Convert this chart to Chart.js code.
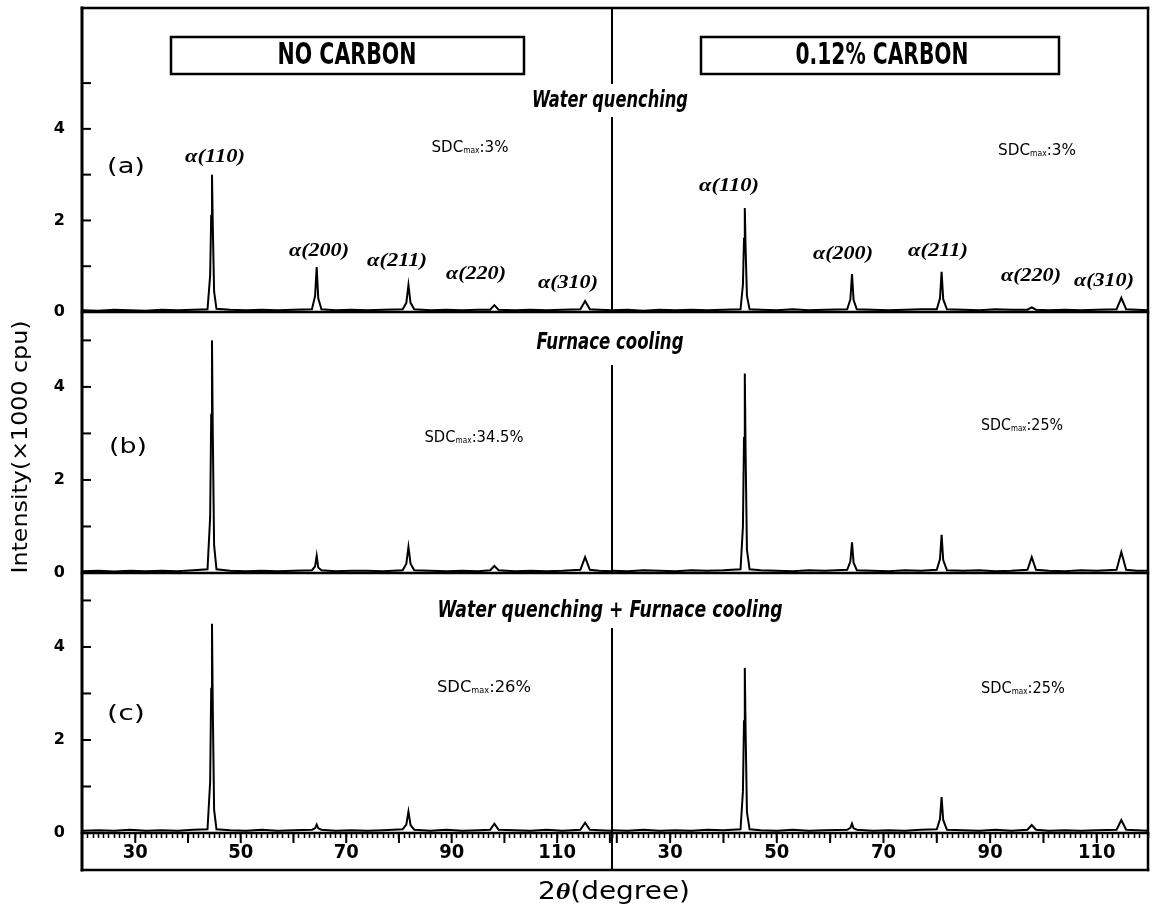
<!DOCTYPE html>
<html><head><meta charset="utf-8">
<script src="https://cdn.jsdelivr.net/npm/chart.js@4.4.1/dist/chart.umd.min.js"></script>
<style>html,body{margin:0;padding:0;background:#fff;} canvas{display:block;}</style>
</head><body>
<canvas id="c" width="1154" height="907"></canvas>
<script>
// ---- data (2θ in degrees, intensity in ×1000 cpu) ----
const twoThetaLeft = [20, 23, 26, 29, 32, 35, 38, 41, 43.7, 44.2, 44.4, 44.55, 44.7, 44.95, 45.4, 48, 51, 54, 57, 60, 63.5, 64.1, 64.4, 64.7, 65.3, 68, 71, 74, 77, 80.7, 81.4, 81.8, 82.2, 82.9, 86, 89, 92, 95, 97.3, 98.1, 98.9, 102, 105, 108, 111, 114.4, 115.3, 116.2, 118, 120.4];
const twoThetaRight = [19.1, 22, 25, 28, 31, 34, 37, 40, 43.2, 43.65, 43.85, 44.0, 44.15, 44.4, 44.9, 47, 50, 53, 56, 59, 63.2, 63.8, 64.1, 64.4, 65.0, 68, 71, 74, 77, 80.0, 80.6, 80.9, 81.2, 81.9, 85, 88, 91, 94, 97.0, 97.8, 98.6, 101, 104, 107, 110, 113.7, 114.6, 115.5, 117.5, 119.6];

// NO CARBON
const noCarbonWaterQuench = [0.04,0.03,0.05,0.04,0.03,0.05,0.04,0.05, 0.06,0.8,2.1,3.0,1.9,0.45,0.07, 0.05,0.04,0.05,0.04,0.05, 0.06,0.35,0.98,0.3,0.06, 0.04,0.05,0.04,0.05, 0.06,0.2,0.59,0.2,0.06, 0.04,0.05,0.04,0.05, 0.05,0.15,0.05, 0.04,0.05,0.04,0.05, 0.06,0.24,0.06, 0.05,0.04];
const noCarbonFurnaceCool = [0.04,0.05,0.03,0.05,0.04,0.05,0.04,0.06, 0.08,1.2,3.4,5.0,3.0,0.6,0.08, 0.05,0.04,0.05,0.04,0.05, 0.06,0.14,0.37,0.12,0.06, 0.04,0.05,0.05,0.04, 0.06,0.2,0.56,0.2,0.06, 0.05,0.04,0.05,0.04, 0.06,0.15,0.06, 0.04,0.05,0.04,0.05, 0.07,0.34,0.07, 0.05,0.04];
const noCarbonWQFC = [0.05,0.06,0.05,0.07,0.05,0.06,0.05,0.07, 0.08,1.1,3.1,4.5,2.7,0.5,0.08, 0.06,0.05,0.07,0.05,0.06, 0.07,0.1,0.18,0.1,0.07, 0.05,0.06,0.05,0.06, 0.08,0.18,0.46,0.17,0.07, 0.05,0.07,0.05,0.06, 0.07,0.2,0.07, 0.06,0.05,0.07,0.05, 0.07,0.22,0.07, 0.06,0.05];
// 0.12% CARBON
const carbonWaterQuench = [0.04,0.05,0.03,0.05,0.04,0.05,0.04,0.05, 0.06,0.6,1.6,2.27,1.4,0.35,0.06, 0.05,0.04,0.06,0.04,0.05, 0.06,0.28,0.83,0.26,0.06, 0.05,0.04,0.05,0.06, 0.06,0.3,0.88,0.28,0.06, 0.05,0.04,0.06,0.05, 0.05,0.10,0.05, 0.04,0.05,0.04,0.05, 0.06,0.31,0.06, 0.05,0.04];
const carbonFurnaceCool = [0.05,0.04,0.06,0.05,0.04,0.06,0.05,0.06, 0.08,1.0,2.9,4.29,2.6,0.5,0.08, 0.06,0.05,0.04,0.06,0.05, 0.07,0.25,0.66,0.22,0.06, 0.05,0.04,0.06,0.05, 0.07,0.3,0.82,0.28,0.06, 0.05,0.06,0.04,0.05, 0.07,0.34,0.07, 0.05,0.04,0.06,0.05, 0.07,0.45,0.07, 0.05,0.05];
const carbonWQFC = [0.06,0.05,0.07,0.05,0.06,0.05,0.07,0.06, 0.08,0.9,2.4,3.55,2.2,0.45,0.08, 0.06,0.05,0.07,0.05,0.06, 0.07,0.11,0.2,0.1,0.07, 0.05,0.06,0.05,0.07, 0.08,0.3,0.77,0.28,0.07, 0.06,0.05,0.07,0.05, 0.07,0.17,0.07, 0.05,0.06,0.05,0.06, 0.07,0.28,0.07, 0.06,0.05];

const xTickLabels = [30, 50, 70, 90, 110];
const yTickLabels = [0, 2, 4];
const yTickMarks = [1, 2, 3, 4, 5];
const panelTitles = ['NO CARBON', '0.12% CARBON'];
const rowTitles = ['Water quenching', 'Furnace cooling', 'Water quenching + Furnace cooling'];
const rowLetters = ['(a)', '(b)', '(c)'];
const peakLabels = ['α(110)', 'α(200)', 'α(211)', 'α(220)', 'α(310)'];
const sdcNoCarbon = ['3%', '34.5%', '26%'];
const sdcCarbon = ['3%', '25%', '25%'];

// ---- helpers ----
const toXY = (xs, ys) => xs.map((x, i) => ({x: x, y: ys[i]}));
function fitText(ctx, text, cx, cy, font, w) {
  ctx.save(); ctx.font = font; ctx.textBaseline = 'middle'; ctx.textAlign = 'center';
  const m = ctx.measureText(text).width;
  const s = w ? w / m : 1;
  ctx.translate(cx, cy); ctx.scale(s, 1);
  ctx.fillText(text, 0, 0);
  ctx.restore();
}
function drawSegs(ctx, segs, cx, by, w) {
  ctx.save(); ctx.textBaseline = 'alphabetic'; ctx.textAlign = 'left';
  let total = 0;
  segs.forEach(s => { ctx.font = s.font; s.w = ctx.measureText(s.t).width; total += s.w; });
  const sc = w ? w / total : 1;
  ctx.translate(cx - total * sc / 2, by); ctx.scale(sc, 1);
  let x = 0;
  segs.forEach(s => { ctx.font = s.font; ctx.fillText(s.t, x, s.dy || 0); x += s.w; });
  ctx.restore();
}
function line(ctx, x1, y1, x2, y2, w) {
  ctx.beginPath(); ctx.lineWidth = w; ctx.moveTo(x1, y1); ctx.lineTo(x2, y2); ctx.stroke();
}

const SANS = '"DejaVu Sans", "Liberation Sans", sans-serif';
const NARROW = '"Liberation Sans Narrow", "DejaVu Sans Condensed", "Liberation Sans", sans-serif';
const SERIF = '"Liberation Serif", "DejaVu Serif", serif';

const framePlugin = {
  id: 'frame',
  beforeDraw(chart) {
    const ctx = chart.ctx; ctx.save(); ctx.fillStyle = '#fff';
    ctx.fillRect(0, 0, chart.width, chart.height); ctx.restore();
  },
  afterDraw(chart) {
    const ctx = chart.ctx;
    const {xL, xR, ya, yb, yc} = chart.scales;
    const left = xL.left, mid = xL.right, right = xR.right;
    const top = ya.top, sepAB = ya.bottom, sepBC = yb.bottom, base = yc.bottom, stripBottom = xL.bottom;
    ctx.save();
    ctx.strokeStyle = '#000'; ctx.fillStyle = '#000'; ctx.lineCap = 'square';
    // outer frame
    line(ctx, left, top, left, stripBottom, 3);
    line(ctx, right, top, right, stripBottom, 2.5);
    line(ctx, left, top, right, top, 2.5);
    line(ctx, left, stripBottom, right, stripBottom, 2.5);
    [sepAB, sepBC, base].forEach(y => line(ctx, left, y, right, y, 2.5));
    // centre divider (interrupted by row titles)
    ctx.lineCap = 'butt';
    [[top, 84], [117, sepAB], [365, sepBC], [628, stripBottom]].forEach(s => line(ctx, mid, s[0], mid, s[1], 2));
    ctx.lineCap = 'square';
    // inward y tick marks
    [ya, yb, yc].forEach(sc => yTickMarks.forEach(v => {
      const y = sc.getPixelForValue(v); line(ctx, left, y, left + 8, y, 2);
    }));
    // longer x ticks every 10 degrees
    [xL, xR].forEach(sc => { for (let v = 20; v <= 120; v += 10) {
      const x = sc.getPixelForValue(v); if (x > sc.left + 2 && x < sc.right - 2) line(ctx, x, base, x, base + 9, 2);
    }});
    // panel title boxes
    ctx.lineWidth = 2.5;
    ctx.strokeRect(171, 37, 353, 37);
    ctx.strokeRect(701, 37, 358, 37);
    fitText(ctx, panelTitles[0], 347, 56, 'bold 30px ' + SANS, 139);
    fitText(ctx, panelTitles[1], 882, 56, 'bold 30px ' + SANS, 173);
    // row titles
    fitText(ctx, rowTitles[0], 610, 101, 'bold italic 23px ' + SANS, 156);
    fitText(ctx, rowTitles[1], 610, 343, 'bold italic 23px ' + SANS, 147);
    fitText(ctx, rowTitles[2], 610, 611, 'bold italic 23px ' + SANS, 345);
    // row letters
    fitText(ctx, rowLetters[0], 126, 168, '21px ' + SANS, 38);
    fitText(ctx, rowLetters[1], 128, 448, '21px ' + SANS, 38);
    fitText(ctx, rowLetters[2], 126, 715, '21px ' + SANS, 38);
    // peak labels (row a)
    const pl = [[215,157],[319,251],[397,261],[476,274],[568,283]];
    const pr = [[729,186],[843,254],[938,251],[1031,276],[1104,281]];
    pl.forEach((p, i) => fitText(ctx, peakLabels[i], p[0], p[1], 'bold italic 19px ' + SERIF, 60));
    pr.forEach((p, i) => fitText(ctx, peakLabels[i], p[0], p[1], 'bold italic 19px ' + SERIF, 60));
    // SDCmax texts
    const sdc = (val, cx, by, w) => drawSegs(ctx, [
      {t: 'SDC', font: '16px ' + SANS}, {t: 'max', font: '8px ' + SANS, dy: 1}, {t: ':' + val, font: '16px ' + SANS}
    ], cx, by, w);
    sdc(sdcNoCarbon[0], 470, 152, 77);
    sdc(sdcCarbon[0], 1037, 155, 78);
    sdc(sdcNoCarbon[1], 474, 442, 99);
    sdc(sdcCarbon[1], 1022, 430, 82);
    sdc(sdcNoCarbon[2], 484, 692, 94);
    sdc(sdcCarbon[2], 1023, 693, 84);
    // axis titles
    drawSegs(ctx, [
      {t: '2', font: '24px ' + SANS}, {t: 'θ', font: 'bold italic 24px ' + SERIF}, {t: '(degree)', font: '24px ' + SANS}
    ], 614, 899, 152);
    ctx.save(); ctx.translate(21, 447); ctx.rotate(-Math.PI / 2);
    fitText(ctx, 'Intensity(×1000 cpu)', 0, 0, '22px ' + SANS, 253);
    ctx.restore();
    ctx.restore();
  }
};

const ds = (xs, ys, xid, yid) => ({
  data: toXY(xs, ys), xAxisID: xid, yAxisID: yid,
  borderColor: '#000', borderWidth: 2, pointRadius: 0, tension: 0, fill: false
});

const xAxis = (weight, sw, min, max) => ({
  type: 'linear', position: 'bottom', stack: 'x', stackWeight: sw, weight: weight, min: min, max: max,
  afterFit(s) { s.height = 37; s.paddingLeft = 0; s.paddingRight = 0; },
  ticks: { stepSize: 1, autoSkip: false, maxRotation: 0, minRotation: 0, maxTicksLimit: 500,
    callback: v => (xTickLabels.includes(v) ? String(v) : ''),
    font: {family: NARROW, size: 20, weight: 'bold'}, color: '#000', padding: 3 },
  grid: { drawOnChartArea: false, drawTicks: true, tickLength: 5, tickWidth: 1.5, tickColor: '#000' },
  border: { display: false }
});
const yAxis = (weight, sw, min, max) => ({
  type: 'linear', position: 'left', stack: 'y', stackWeight: sw, weight: weight, min: min, max: max,
  afterFit(s) { s.width = 80; s.paddingTop = 0; s.paddingBottom = 0; },
  ticks: { stepSize: 1, autoSkip: false,
    callback: v => (yTickLabels.includes(v) ? String(v) : ''),
    font: {family: SANS, size: 16, weight: 'bold'}, color: '#000', padding: 17 },
  grid: { drawOnChartArea: false, drawTicks: false },
  border: { display: false }
});

new Chart(document.getElementById('c'), {
  type: 'line',
  data: { datasets: [
    ds(twoThetaLeft, noCarbonWaterQuench, 'xL', 'ya'),
    ds(twoThetaRight, carbonWaterQuench, 'xR', 'ya'),
    ds(twoThetaLeft, noCarbonFurnaceCool, 'xL', 'yb'),
    ds(twoThetaRight, carbonFurnaceCool, 'xR', 'yb'),
    ds(twoThetaLeft, noCarbonWQFC, 'xL', 'yc'),
    ds(twoThetaRight, carbonWQFC, 'xR', 'yc')
  ]},
  options: {
    responsive: false, animation: false, devicePixelRatio: 1,
    layout: { padding: { left: 2, right: 6, top: 8, bottom: 37 } },
    plugins: { legend: { display: false }, tooltip: { enabled: false }, title: { display: false } },
    scales: {
      xL: xAxis(1, 530, 19.9, 120.4),
      xR: xAxis(2, 536, 19.1, 119.6),
      ya: yAxis(3, 304, 0, 6.64),
      yb: yAxis(2, 261, 0, 5.61),
      yc: yAxis(1, 260, 0, 5.59)
    }
  },
  plugins: [framePlugin]
});
</script>
</body></html>
